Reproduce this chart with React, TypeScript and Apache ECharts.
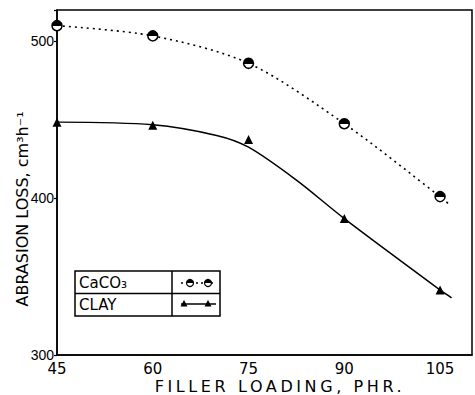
import React, { useEffect, useRef } from "react";
import * as echarts from "echarts";

const loadings = [45, 60, 75, 90, 105];
const caco3Loss = [510, 503.5, 486, 447.5, 401];
const clayLoss = [448.5, 446.5, 437.5, 387, 341.5];

// fitted curves as drawn in the figure
const caco3CurveX = [45, 60, 75, 90, 105, 106.3];
const caco3CurveY = [510, 503.5, 486, 447.5, 401, 396.5];
const clayCurveX = [45, 60, 70, 75, 82.5, 90, 105, 106.8];
const clayCurveY = [448.5, 446.8, 440, 432.5, 411.5, 387, 341.5, 336.5];

const yTickLabels = [300, 400, 500];
const xTickLabels = [45, 60, 75, 90, 105];

const X_NAME = "FILLER LOADING, PHR.";
const Y_NAME = "ABRASION LOSS, cm³h⁻¹";

const halfFill = {
  type: "linear",
  x: 0,
  y: 0,
  x2: 0,
  y2: 1,
  colorStops: [
    { offset: 0, color: "#000" },
    { offset: 0.55, color: "#000" },
    { offset: 0.55, color: "#fff" },
    { offset: 1, color: "#fff" },
  ],
};

export default function App() {
  const ref = useRef<HTMLDivElement>(null);
  useEffect(() => {
    if (!ref.current) return;
    const root = ref.current;
    const chart = echarts.init(root, null, { renderer: "svg" });
    const font = "DejaVu Sans";
    const spaceOut = () => {
      root.querySelectorAll("text").forEach((t) => {
        if (t.textContent === X_NAME) t.setAttribute("letter-spacing", "3.6");
      });
    };
    chart.on("finished", spaceOut);
    chart.setOption({
      animation: false,
      backgroundColor: "#fff",
      textStyle: { fontFamily: font, color: "#000" },
      grid: {
        left: 57,
        right: 2,
        top: 10,
        bottom: 40,
        show: true,
        borderColor: "#000",
        borderWidth: 1.5,
        backgroundColor: "transparent",
      },
      xAxis: {
        type: "value",
        min: 45,
        max: 110,
        interval: 15,
        splitLine: { show: false },
        axisTick: { show: false },
        axisLine: { lineStyle: { color: "#000", width: 1.5 } },
        axisLabel: {
          color: "#000",
          fontFamily: font,
          fontSize: 15,
          margin: 6,
          formatter: (v: number) => (xTickLabels.includes(v) ? String(v) : ""),
        },
      },
      yAxis: {
        type: "value",
        min: 300,
        max: 520,
        interval: 100,
        splitLine: { show: false },
        axisTick: { show: true, length: 3, lineStyle: { color: "#000", width: 1.2 } },
        axisLine: { lineStyle: { color: "#000", width: 1.5 } },
        axisLabel: {
          color: "#000",
          fontFamily: "Liberation Sans",
          fontSize: 14,
          margin: 3,
          formatter: (v: number) => (yTickLabels.includes(v) ? String(v) : ""),
        },
      },
      series: [
        {
          type: "line",
          name: "CaCO3 curve",
          data: caco3CurveX.map((x, i) => [x, caco3CurveY[i]]),
          smooth: 0.3,
          showSymbol: false,
          lineStyle: { color: "#000", width: 1.6, type: [2, 4] },
          z: 2,
        },
        {
          type: "line",
          name: "CLAY curve",
          data: clayCurveX.map((x, i) => [x, clayCurveY[i]]),
          smooth: 0.3,
          showSymbol: false,
          lineStyle: { color: "#000", width: 1.5 },
          z: 2,
        },
        {
          type: "scatter",
          name: "CaCO3",
          data: loadings.map((x, i) => [x, caco3Loss[i]]),
          symbol: "circle",
          symbolSize: 10,
          itemStyle: { color: halfFill, borderColor: "#000", borderWidth: 1.5, opacity: 1 },
          z: 3,
        },
        {
          type: "scatter",
          name: "CLAY",
          data: loadings.map((x, i) => [x, clayLoss[i]]),
          symbol: "triangle",
          symbolSize: 9,
          itemStyle: { color: "#000", opacity: 1 },
          z: 3,
        },
      ],
      graphic: [
        {
          type: "text",
          x: 22,
          y: 209,
          rotation: Math.PI / 2,
          style: {
            text: Y_NAME,
            fontFamily: font,
            fontSize: 16,
            fill: "#000",
            align: "center",
            verticalAlign: "middle",
          },
        },
        {
          type: "text",
          x: 280,
          y: 386,
          style: {
            text: X_NAME,
            fontFamily: font,
            fontSize: 16,
            fill: "#000",
            align: "center",
            verticalAlign: "middle",
          },
        },
        {
          type: "group",
          z: 100,
          children: [
            {
              type: "rect",
              shape: { x: 75, y: 271, width: 145, height: 45 },
              style: { fill: "#fff", stroke: "#000", lineWidth: 1.5 },
            },
            {
              type: "line",
              shape: { x1: 172, y1: 271, x2: 172, y2: 316 },
              style: { stroke: "#000", lineWidth: 1.5 },
            },
            {
              type: "line",
              shape: { x1: 75, y1: 293.5, x2: 220, y2: 293.5 },
              style: { stroke: "#000", lineWidth: 1.5 },
            },
            {
              type: "text",
              x: 79,
              y: 283,
              style: {
                text: "CaCO₃",
                fontFamily: font,
                fontSize: 15,
                fill: "#000",
                align: "left",
                verticalAlign: "middle",
              },
            },
            {
              type: "text",
              x: 79,
              y: 305,
              style: {
                text: "CLAY",
                fontFamily: font,
                fontSize: 15,
                fill: "#000",
                align: "left",
                verticalAlign: "middle",
              },
            },
            {
              type: "line",
              shape: { x1: 181, y1: 283, x2: 216, y2: 283 },
              style: { stroke: "#000", lineWidth: 1.3, lineDash: [2, 3] },
            },
            {
              type: "circle",
              shape: { cx: 190, cy: 283, r: 3.5 },
              style: { fill: halfFill, stroke: "#000", lineWidth: 1.2 },
            },
            {
              type: "circle",
              shape: { cx: 208, cy: 283, r: 3.5 },
              style: { fill: halfFill, stroke: "#000", lineWidth: 1.2 },
            },
            {
              type: "line",
              shape: { x1: 181, y1: 304, x2: 216, y2: 304 },
              style: { stroke: "#000", lineWidth: 1.3 },
            },
            {
              type: "polygon",
              shape: { points: [[184, 300], [180.5, 306.5], [187.5, 306.5]] },
              style: { fill: "#000" },
            },
            {
              type: "polygon",
              shape: { points: [[208, 300], [204.5, 306.5], [211.5, 306.5]] },
              style: { fill: "#000" },
            },
          ],
        },
      ],
    });
    spaceOut();
    return () => chart.dispose();
  }, []);
  return (
    <div
      ref={ref}
      style={{ position: "fixed", left: 0, top: 0, width: 475, height: 395, background: "#fff" }}
    />
  );
}
